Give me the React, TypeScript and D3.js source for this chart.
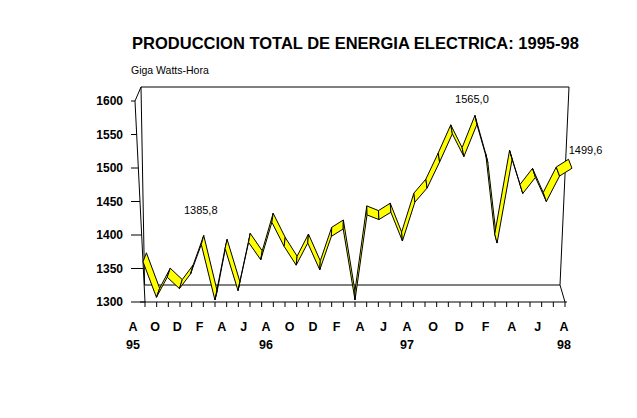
import React from "react";
import * as d3 from "d3";

// ---- Data (Aug 1995 .. Aug 1998, GWh) ----
const months: string[] = [
  "Ago-95","Sep-95","Oct-95","Nov-95","Dic-95",
  "Ene-96","Feb-96","Mar-96","Abr-96","May-96","Jun-96","Jul-96","Ago-96","Sep-96","Oct-96","Nov-96","Dic-96",
  "Ene-97","Feb-97","Mar-97","Abr-97","May-97","Jun-97","Jul-97","Ago-97","Sep-97","Oct-97","Nov-97","Dic-97",
  "Ene-98","Feb-98","Mar-98","Abr-98","May-98","Jun-98","Jul-98","Ago-98",
];
const values: number[] = [
  1360, 1307, 1337, 1320, 1342,
  1385.8, 1303, 1380, 1317, 1389, 1363, 1419, 1383, 1355, 1388, 1348, 1398,
  1409, 1303, 1430, 1423, 1434, 1391, 1449, 1470, 1509, 1551, 1517, 1565.0,
  1508, 1388, 1513, 1462, 1486, 1450, 1488, 1499.6,
];
const labeledPoints: number[] = [5, 28, 36];
const monthLetters: string[] = ["A","O","D","F","A","J","A","O","D","F","A","J","A","O","D","F","A","J","A"];
const yearLabels: string[] = ["95", "96", "97", "98"];
const yearLabelSlots: number[] = [0, 6, 12, 18];
const yTicks: number[] = [1300, 1350, 1400, 1450, 1500, 1550, 1600];
const title = "PRODUCCION TOTAL DE ENERGIA ELECTRICA: 1995-98";
const unitLabel = "Giga Watts-Hora";

// ---- Layout ----
const W = 637, H = 418;
const FONT = "'Liberation Sans', Arial, Helvetica, sans-serif";
// front plane corners
const F_BL: [number, number] = [145, 302];
const F_BR: [number, number] = [565, 302];
const F_TL: [number, number] = [135, 101];
const F_TR: [number, number] = [575.5, 101];
// back wall corners
const B_TL: [number, number] = [141, 87];
const B_TR: [number, number] = [569, 87];
const B_BL: [number, number] = [144.6, 285];
const B_BR: [number, number] = [560, 285];
// ribbon depth offset (left side / right side)
const RIB_DX_L = 3.4, RIB_DX_R = -3.5, RIB_DY = -9;
// data-label offsets from ribbon back edge
const labelOffsets: [number, number][] = [[-3, -22], [-3, -12], [17, -5]];

const lerp = (a: number, b: number, t: number) => a + (b - a) * t;

const uScale = d3.scaleLinear().domain([0, values.length - 1]).range([0, 1]);
const vScale = d3.scaleLinear().domain([1300, 1600]).range([0, 1]);
const labelX = d3.scaleLinear().domain([0, 6, 12, 18]).range([133, 266, 407, 564]);

function front(u: number, v: number): [number, number] {
  const xl = lerp(F_BL[0], F_TL[0], v);
  const xr = lerp(F_BR[0], F_TR[0], v);
  return [lerp(xl, xr, u), lerp(F_BL[1], F_TL[1], v)];
}
function backEdge(u: number, v: number): [number, number] {
  const [x, y] = front(u, v);
  return [x + lerp(RIB_DX_L, RIB_DX_R, u), y + RIB_DY];
}

const locale = d3.formatLocale({ decimal: ",", thousands: ".", grouping: [3], currency: ["", ""] });
const fmt = locale.format(".1f");

export default function App() {
  const pts = values.map((val, i) => {
    const u = uScale(i), v = vScale(val);
    return { f: front(u, v), b: backEdge(u, v) };
  });
  const line = d3.line();

  const quads = pts.slice(0, -1).map((p, i) => {
    const q = pts[i + 1];
    return line([p.f, q.f, q.b, p.b]) + "Z";
  });

  const frameLines: [number, number][][] = [
    [B_TL, B_TR],
    [B_TR, B_BR],
    [B_BL, B_BR],
    [B_TL, B_BL],
    [B_BR, F_BR],
    [F_TL, B_TL],
  ];

  return (
    <svg width={W} height={H} style={{ position: "absolute", left: 0, top: 0, background: "#fff" }}
      fontFamily={FONT}>
      <rect x={0} y={0} width={W} height={H} fill="#fff" />
      <text x={355.5} y={49} textAnchor="middle" fontSize={16.5} fontWeight="bold">{title}</text>
      <text x={131} y={74} fontSize={10.5}>{unitLabel}</text>

      {frameLines.map((l, i) => (
        <path key={"fr" + i} d={line(l) || ""} stroke="#000" strokeWidth={1} fill="none" />
      ))}
      {/* front value axis */}
      <path d={line([F_TL, F_BL]) || ""} stroke="#000" fill="none" />
      {yTicks.map((t) => {
        const [ax, ay] = front(0, vScale(t));
        return (
          <g key={"yt" + t}>
            <line x1={131} x2={ax} y1={ay} y2={ay} stroke="#000" />
            <text x={123} y={ay + 4.3} textAnchor="end" fontSize={12} fontWeight="bold">{t}</text>
          </g>
        );
      })}
      {/* category axis */}
      <line x1={140} x2={567} y1={F_BL[1]} y2={F_BL[1]} stroke="#000" />
      {values.map((_, i) => {
        const [tx, ty] = front(uScale(i), 0);
        return <line key={"xt" + i} x1={tx} x2={tx} y1={ty} y2={ty + 5} stroke="#000" />;
      })}
      {monthLetters.map((m, i) => (
        <text key={"ml" + i} x={labelX(i)} y={330.5} textAnchor="middle" fontSize={12.5} fontWeight="bold">{m}</text>
      ))}
      {yearLabels.map((y, i) => (
        <text key={"yl" + i} x={labelX(yearLabelSlots[i])} y={348.5} textAnchor="middle" fontSize={12.5} fontWeight="bold">{y}</text>
      ))}

      {/* ribbon */}
      {quads.map((d, i) => (
        <path key={"q" + i} d={d} fill="#ffff00" stroke="#000" strokeWidth={1} strokeLinejoin="round" />
      ))}

      {labeledPoints.map((idx, k) => {
        const [bx, by] = pts[idx].b;
        const [ox, oy] = labelOffsets[k];
        return (
          <text key={"dl" + idx} x={bx + ox} y={by + oy} textAnchor="middle" fontSize={11}>
            {fmt(values[idx])}
          </text>
        );
      })}
    </svg>
  );
}
